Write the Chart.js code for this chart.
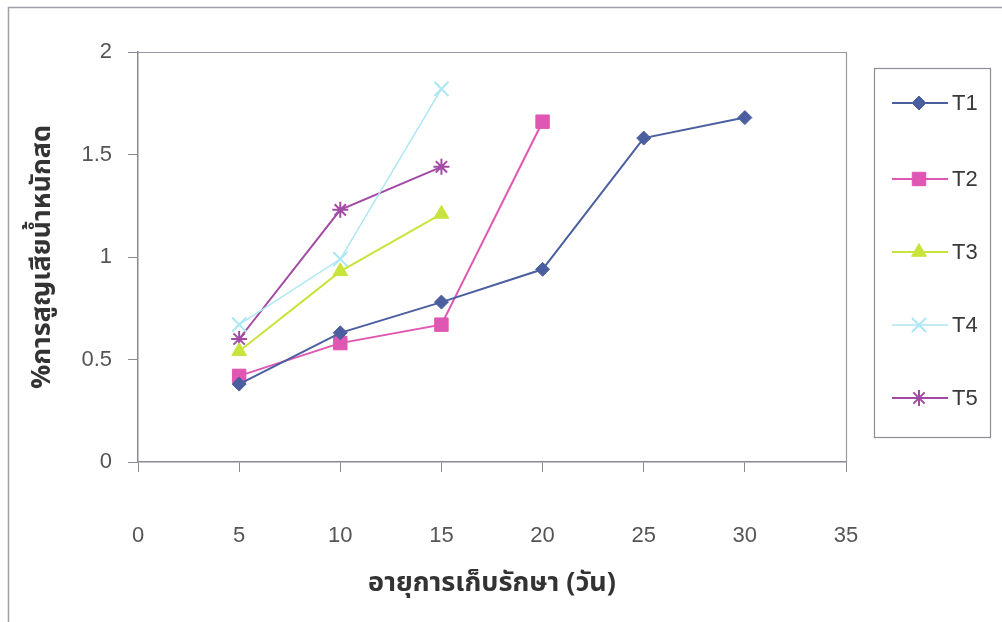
<!DOCTYPE html>
<html>
<head>
<meta charset="utf-8">
<script src="https://cdn.jsdelivr.net/npm/chart.js@4/dist/chart.umd.min.js"></script>
<style>
  html, body { margin: 0; padding: 0; background: #fff; }
  #wrap { width: 1002px; height: 622px; position: relative; }
</style>
</head>
<body>
<div id="wrap"><canvas id="c" width="1002" height="622"></canvas></div>
<script>
// storage days and weight loss (%) per treatment
const days = [5, 10, 15, 20, 25, 30];
const t1 = [0.38, 0.63, 0.78, 0.94, 1.58, 1.68];
const t2 = [0.42, 0.58, 0.67, 1.66];
const t3 = [0.54, 0.93, 1.21];
const t4 = [0.67, 0.99, 1.82];
const t5 = [0.60, 1.23, 1.44];
const seriesNames = ['T1', 'T2', 'T3', 'T4', 'T5'];
const yTickLabels = ['0', '0.5', '1', '1.5', '2'];
const xTickLabels = ['0', '5', '10', '15', '20', '25', '30', '35'];

const numFont = "'Liberation Sans', Arial, sans-serif";
const thaiFont = "Tahoma, 'Noto Sans Thai', 'DejaVu Sans', sans-serif";

function pts(vals) {
  return vals.map((v, i) => ({ x: days[i], y: v }));
}

const styles = [
  { color: '#4b5e9f', style: 'rectRot', radius: 7, width: 2 },
  { color: '#e056b3', style: 'rect', radius: 9.5, width: 2 },
  { color: '#c8e43c', style: 'triangle', radius: 8.5, width: 2 },
  { color: '#ade6f4', style: 'crossRot', radius: 10, width: 1.5 },
  { color: '#a24aa4', style: 'star', radius: 8, width: 2 }
];
const allVals = [t1, t2, t3, t4, t5];

const datasets = allVals.map((vals, i) => {
  const s = styles[i];
  const hollow = s.style === 'crossRot' || s.style === 'star';
  return {
    label: seriesNames[i],
    data: pts(vals),
    borderColor: s.color,
    backgroundColor: s.color,
    borderWidth: s.width,
    pointStyle: s.style,
    pointRadius: s.radius,
    pointBorderWidth: hollow ? 2 : 1,
    pointBackgroundColor: s.color,
    pointBorderColor: s.color,
    tension: 0
  };
});

// frame, plot border and legend box
const decor = {
  id: 'decor',
  beforeDraw(chart) {
    const ctx = chart.ctx;
    ctx.save();
    ctx.strokeStyle = '#a0a0a8';
    ctx.lineWidth = 1.5;
    ctx.beginPath();
    ctx.moveTo(8.5, 622);
    ctx.lineTo(8.5, 7.5);
    ctx.lineTo(1002, 7.5);
    ctx.stroke();
    ctx.restore();
  },
  afterDraw(chart) {
    const ctx = chart.ctx;
    const a = chart.chartArea;
    ctx.save();
    ctx.strokeStyle = '#9a9aa4';
    ctx.lineWidth = 1.2;
    ctx.beginPath();
    ctx.moveTo(a.left, a.top + 0.5);
    ctx.lineTo(a.right + 0.5, a.top + 0.5);
    ctx.lineTo(a.right + 0.5, a.bottom);
    ctx.stroke();

    // legend
    const bx = 874, by = 68, bw = 116, bh = 369;
    ctx.strokeStyle = '#8c8c94';
    ctx.lineWidth = 1.2;
    ctx.strokeRect(bx + 0.5, by + 0.5, bw, bh);
    const ys = [103, 179, 252, 325, 398];
    chart.data.datasets.forEach((ds, i) => {
      const y = ys[i];
      ctx.strokeStyle = ds.borderColor;
      ctx.lineWidth = ds.borderWidth;
      ctx.beginPath();
      ctx.moveTo(892, y);
      ctx.lineTo(948, y);
      ctx.stroke();
      ctx.fillStyle = ds.pointBackgroundColor;
      ctx.strokeStyle = ds.pointBorderColor;
      ctx.lineWidth = ds.pointBorderWidth;
      Chart.helpers.drawPoint(ctx, { pointStyle: ds.pointStyle, radius: ds.pointRadius, rotation: 0, borderWidth: ds.pointBorderWidth }, 919, y);
      ctx.fillStyle = '#3a3a3a';
      ctx.font = '22px ' + numFont;
      ctx.textBaseline = 'middle';
      ctx.textAlign = 'left';
      ctx.fillText(ds.label, 952, y + 1);
    });
    ctx.restore();
  }
};

new Chart(document.getElementById('c').getContext('2d'), {
  type: 'line',
  data: { datasets: datasets },
  options: {
    responsive: false,
    animation: false,
    layout: { padding: { left: 0, top: 52, right: 156, bottom: 0 } },
    plugins: {
      legend: { display: false },
      tooltip: { enabled: false }
    },
    scales: {
      x: {
        type: 'linear',
        min: 0, max: 35,
        afterFit: s => { s.height = 160; },
        border: { color: '#8a8a96', width: 1.5 },
        grid: { drawOnChartArea: false, drawTicks: true, tickLength: 10, color: '#8a8a96' },
        ticks: {
          stepSize: 5,
          padding: 51,
          color: '#555',
          font: { family: numFont, size: 22 },
          callback: (v, i) => xTickLabels[i]
        },
        title: {
          display: true,
          text: 'อายุการเก็บรักษา (วัน)',
          color: '#333',
          font: { family: thaiFont, size: 27, weight: 'bold' },
          padding: { bottom: 20 }
        }
      },
      y: {
        min: 0, max: 2,
        afterFit: s => { s.width = 138; },
        border: { color: '#8a8a96', width: 1.5 },
        grid: { drawOnChartArea: false, drawTicks: true, tickLength: 10, color: '#8a8a96' },
        ticks: {
          stepSize: 0.5,
          padding: 16,
          color: '#555',
          font: { family: numFont, size: 22 },
          callback: (v, i) => yTickLabels[i]
        },
        title: {
          display: true,
          text: '%การสูญเสียน้ำหนักสด',
          color: '#333',
          font: { family: thaiFont, size: 27, weight: 'bold' },
          padding: { top: 28 }
        }
      }
    }
  },
  plugins: [decor]
});
</script>
</body>
</html>
